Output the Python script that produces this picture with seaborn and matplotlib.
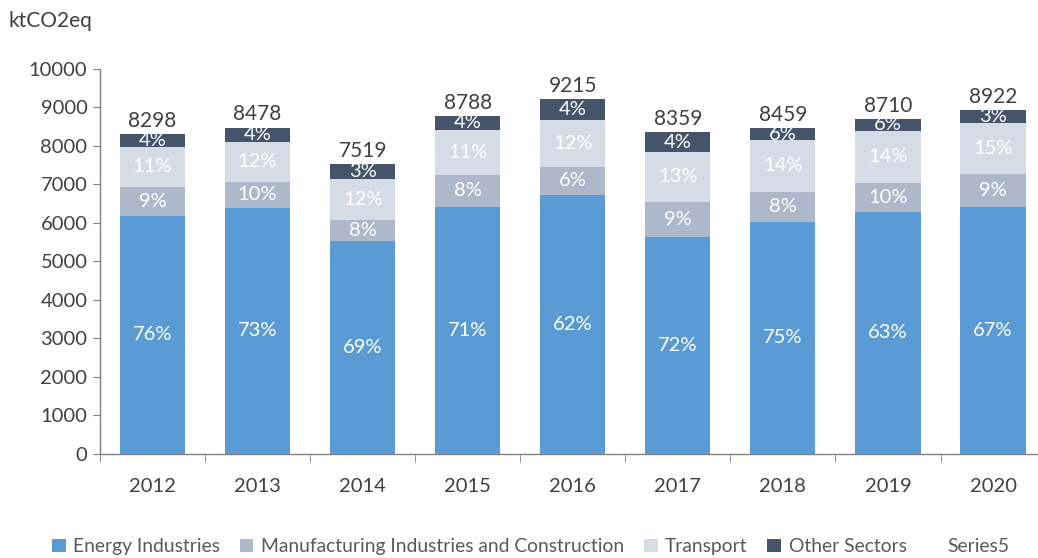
import matplotlib
matplotlib.use("Agg")
import matplotlib.pyplot as plt
from matplotlib.patches import Patch
import seaborn as sns
import pandas as pd
import numpy as np

# values (ktCO2eq)
years = ["2012", "2013", "2014", "2015", "2016", "2017", "2018", "2019", "2020"]
energy = [6190, 6390, 5532, 6424, 6727, 5636, 6026, 6286, 6416]
manufacturing = [745, 675, 546, 823, 728, 909, 779, 753, 857]
transport = [1039, 1039, 1065, 1169, 1220, 1299, 1351, 1351, 1324]
other = [324, 374, 376, 372, 540, 515, 303, 320, 325]
totals = [8298, 8478, 7519, 8788, 9215, 8359, 8459, 8710, 8922]

# percentage labels as printed on the chart
pct_energy = ["76%", "73%", "69%", "71%", "62%", "72%", "75%", "63%", "67%"]
pct_manuf = ["9%", "10%", "8%", "8%", "6%", "9%", "8%", "10%", "9%"]
pct_transport = ["11%", "12%", "12%", "11%", "12%", "13%", "14%", "14%", "15%"]
pct_other = ["4%", "4%", "3%", "4%", "4%", "4%", "6%", "6%", "3%"]

series = ["Energy Industries", "Manufacturing Industries and Construction",
          "Transport", "Other Sectors"]
colors = ["#5B9BD5", "#ADB9CA", "#D6DCE5", "#44546A"]

df = pd.DataFrame({"year": years, series[0]: energy, series[1]: manufacturing,
                   series[2]: transport, series[3]: other})
cum = df[series].cumsum(axis=1)

sns.set_style("white")
plt.rcParams["font.family"] = ["Lato", "DejaVu Sans"]
txt = "#404040"

fig = plt.figure(figsize=(10.38, 5.58), dpi=100)
ax = fig.add_axes([0.0963, 0.1864, 0.911, 0.690])

# stacked bars: draw cumulative layers from the top down
for s, c in reversed(list(zip(series, colors))):
    sns.barplot(x=df["year"], y=cum[s], color=c, width=0.62, ax=ax,
                saturation=1, edgecolor="none")

labels = [pct_energy, pct_manuf, pct_transport, pct_other]
vals = [energy, manufacturing, transport, other]
for k in range(4):
    base = cum[series[k]].values - np.array(vals[k])
    for i in range(len(years)):
        ax.text(i, base[i] + vals[k][i] / 2, labels[k][i], ha="center",
                va="center", color="white", fontsize=14.5)

for i, t in enumerate(totals):
    ax.text(i, cum[series[3]].values[i] + 80, str(t), ha="center",
            va="bottom", color=txt, fontsize=15)

ax.set_xlim(-0.5, 8.5)
ax.set_ylim(0, 10000)
ax.set_yticks(range(0, 10001, 1000))
ax.set_xlabel("")
ax.set_ylabel("")
for sp in ["top", "right"]:
    ax.spines[sp].set_visible(False)
for sp in ["left", "bottom"]:
    ax.spines[sp].set_color("#808080")
    ax.spines[sp].set_linewidth(1)
ax.tick_params(axis="y", length=5, color="#808080", labelsize=14.5,
               labelcolor=txt, pad=4, left=True)
ax.tick_params(axis="x", length=0, labelsize=14.5, labelcolor=txt, pad=17)
ax.set_xticks(np.arange(-0.5, 9, 1), minor=True)
ax.tick_params(axis="x", which="minor", length=6, color="#808080", bottom=True)

fig.text(0.008, 0.962, "ktCO2eq", fontsize=15, color=txt, va="center")

handles = [Patch(facecolor=c, edgecolor="none") for c in colors]
handles.append(Patch(facecolor="none", edgecolor="none"))
leg = fig.legend(handles, series + ["Series5"], loc="center left",
                 bbox_to_anchor=(0.033, 0.02), ncol=5, frameon=False,
                 fontsize=13.9, handlelength=0.72, handleheight=0.72,
                 handletextpad=0.4, columnspacing=1.0)
for t in leg.get_texts():
    t.set_color("#595959")

fig.savefig("out.png", dpi=100)
